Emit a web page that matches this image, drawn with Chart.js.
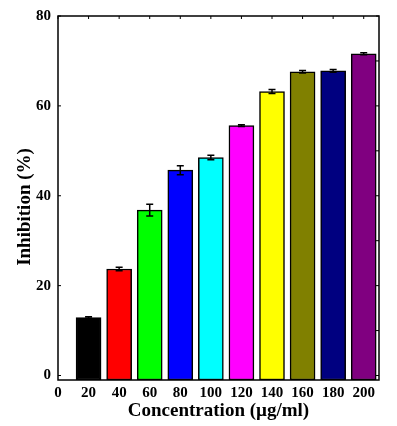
<!DOCTYPE html>
<html>
<head>
<meta charset="utf-8">
<script src="https://cdn.jsdelivr.net/npm/chart.js@4/dist/chart.umd.min.js"></script>
<style>
  html, body { margin: 0; padding: 0; background: #fff; }
</style>
</head>
<body>
<canvas id="inhibition-chart" width="397" height="426"></canvas>
<script>
const concentrations = [20, 40, 60, 80, 100, 120, 140, 160, 180, 200];
const inhibition = [12.9, 23.7, 36.8, 45.7, 48.5, 55.6, 63.2, 67.6, 67.8, 71.6];
const errors = [0.2, 0.4, 1.3, 1.0, 0.5, 0.2, 0.45, 0.3, 0.3, 0.2];
const barColors = ['#000000', '#FF0000', '#00FF00', '#0000FF', '#00FFFF', '#FF00FF', '#FFFF00', '#808000', '#000080', '#800080'];
const xTicks = [0, 20, 40, 60, 80, 100, 120, 140, 160, 180, 200];
const yTicks = [0, 20, 40, 60, 80];
const yMinorTicks = [0, 10, 20, 30, 40, 50, 60, 70, 80];
const yTitle = 'Inhibition (%)';

const serif = "'Liberation Serif', 'Times New Roman', serif";

// error bars, frame, inward ticks and the y title
const extras = {
  id: 'extras',
  afterDatasetsDraw(chart) {
    const {ctx, chartArea: a, scales: {x, y}} = chart;
    ctx.save();
    ctx.strokeStyle = '#000';
    ctx.lineWidth = 1.5;
    concentrations.forEach((c, i) => {
      const px = x.getPixelForValue(c);
      const top = y.getPixelForValue(inhibition[i] + errors[i]);
      const bot = y.getPixelForValue(inhibition[i] - errors[i]);
      ctx.beginPath();
      ctx.moveTo(px, top); ctx.lineTo(px, bot);
      ctx.moveTo(px - 3.5, top); ctx.lineTo(px + 3.5, top);
      ctx.moveTo(px - 3.5, bot); ctx.lineTo(px + 3.5, bot);
      ctx.stroke();
    });
    ctx.strokeRect(a.left, a.top, a.right - a.left, a.bottom - a.top);
    ctx.lineWidth = 1;
    ctx.beginPath();
    yTicks.forEach((v) => {
      const py = y.getPixelForValue(v);
      ctx.moveTo(a.left, py); ctx.lineTo(a.left + 3, py);
    });
    yMinorTicks.forEach((v) => {
      const py = y.getPixelForValue(v);
      ctx.moveTo(a.right, py); ctx.lineTo(a.right - 3, py);
    });
    xTicks.forEach((v) => {
      const px = x.getPixelForValue(v);
      ctx.moveTo(px, a.top); ctx.lineTo(px, a.top + 3);
    });
    ctx.stroke();

    ctx.translate(25, (a.top + a.bottom) / 2 + 9);
    ctx.rotate(-Math.PI / 2);
    ctx.fillStyle = '#000';
    ctx.font = `bold 19px ${serif}`;
    ctx.textAlign = 'center';
    ctx.textBaseline = 'middle';
    ctx.fillText(yTitle, 0, 0);
    ctx.restore();
  }
};

new Chart(document.getElementById('inhibition-chart'), {
  type: 'bar',
  data: {
    datasets: [{
      data: concentrations.map((c, i) => ({x: c, y: inhibition[i]})),
      backgroundColor: barColors,
      borderColor: '#000',
      borderWidth: 1.5,
      borderSkipped: false,
      barThickness: 25,
      base: -1,
    }],
  },
  options: {
    responsive: false,
    animation: false,
    devicePixelRatio: 1,
    layout: {padding: {top: 14, right: 18, left: 0, bottom: 0}},
    plugins: {legend: {display: false}, tooltip: {enabled: false}},
    scales: {
      x: {
        type: 'linear',
        offset: false,
        min: 0,
        max: 210,
        afterFit: (s) => { s.height = 46; },
        afterBuildTicks: (s) => { s.ticks = xTicks.map((v) => ({value: v})); },
        grid: {display: false, drawTicks: false},
        border: {display: false},
        ticks: {color: '#000', padding: 4, maxRotation: 0, autoSkip: false, font: {family: serif, size: 15, weight: 'bold'}},
        title: {display: true, text: 'Concentration (µg/ml)', color: '#000', padding: {top: 0}, font: {family: serif, size: 19, weight: 'bold'}},
      },
      y: {
        min: -1,
        max: 80,
        afterFit: (s) => { s.width = 58; },
        afterBuildTicks: (s) => { s.ticks = yTicks.map((v) => ({value: v})); },
        grid: {display: false, drawTicks: false},
        border: {display: false},
        ticks: {color: '#000', padding: 7, font: {family: serif, size: 15, weight: 'bold'}},
        title: {display: false},
      },
    },
  },
  plugins: [extras],
});
</script>
</body>
</html>
